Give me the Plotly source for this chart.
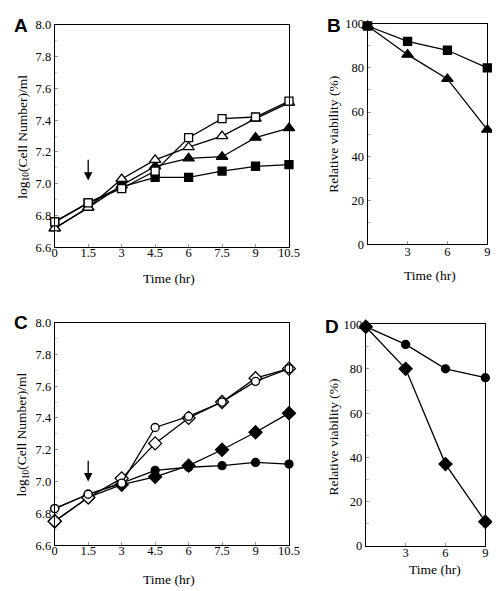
import plotly.graph_objects as go

# ---------------- data ----------------
time_growth = [0, 1.5, 3, 4.5, 6, 7.5, 9, 10.5]
time_viab = [0, 3, 6, 9]

# Panel A (log10 cell number / ml)
a_open_square = [6.76, 6.88, 6.97, 7.08, 7.29, 7.41, 7.42, 7.52]
a_open_triangle = [6.72, 6.85, 7.03, 7.15, 7.23, 7.30, 7.41, 7.51]
a_filled_triangle = [6.72, 6.85, 6.99, 7.11, 7.16, 7.17, 7.29, 7.35]
a_filled_square = [6.76, 6.88, 6.98, 7.04, 7.04, 7.08, 7.11, 7.12]

# Panel B (relative viability %)
b_square = [99, 92, 88, 80]
b_triangle = [99, 86, 75, 52]

# Panel C (log10 cell number / ml)
c_open_circle = [6.83, 6.92, 6.99, 7.34, 7.41, 7.50, 7.63, 7.71]
c_open_diamond = [6.75, 6.90, 7.02, 7.24, 7.40, 7.50, 7.65, 7.71]
c_filled_diamond = [6.75, 6.90, 6.98, 7.03, 7.10, 7.20, 7.31, 7.43]
c_filled_circle = [6.83, 6.92, 6.99, 7.07, 7.09, 7.10, 7.12, 7.11]

# Panel D (relative viability %)
d_circle = [99, 91, 80, 76]
d_diamond = [99, 80, 37, 11]

growth_ticks = [0, 1.5, 3, 4.5, 6, 7.5, 9, 10.5]
growth_tick_text = ["0", "1.5", "3", "4.5", "6", "7.5", "9", "10.5"]
log_ticks = [6.6, 6.8, 7.0, 7.2, 7.4, 7.6, 7.8, 8.0]
log_tick_text = ["6.6", "6.8", "7.0", "7.2", "7.4", "7.6", "7.8", "8.0"]
viab_ticks = [0, 20, 40, 60, 80, 100]
viab_time_ticks = [3, 6, 9]
treatment_time = 1.5

# ---------------- figure ----------------
W, H = 500, 591
SERIF = "Liberation Serif"
LINE_W = 1.3

def px_x(p):
    return p / W

def px_y(p):
    return 1 - p / H

fig = go.Figure()

def add(x, y, xa, ya, symbol, size, filled):
    fig.add_trace(go.Scatter(
        x=x, y=y, xaxis=xa, yaxis=ya, mode="lines+markers",
        line=dict(color="black", width=LINE_W),
        marker=dict(symbol=symbol, size=size,
                    color="black" if filled else "white",
                    line=dict(color="black", width=1.3)),
        cliponaxis=False, showlegend=False, hoverinfo="skip"))

# A
add(time_growth, a_filled_square, "x", "y", "square", 8, True)
add(time_growth, a_filled_triangle, "x", "y", "triangle-up", 10, True)
add(time_growth, a_open_triangle, "x", "y", "triangle-up", 10, False)
add(time_growth, a_open_square, "x", "y", "square", 8, False)
# B
add(time_viab, b_triangle, "x2", "y2", "triangle-up", 10, True)
add(time_viab, b_square, "x2", "y2", "square", 8, True)
# C
add(time_growth, c_filled_circle, "x3", "y3", "circle", 8, True)
add(time_growth, c_filled_diamond, "x3", "y3", "diamond", 10, True)
add(time_growth, c_open_diamond, "x3", "y3", "diamond", 10, False)
add(time_growth, c_open_circle, "x3", "y3", "circle", 8, False)
# D
add(time_viab, d_diamond, "x4", "y4", "diamond", 10, True)
add(time_viab, d_circle, "x4", "y4", "circle", 8, True)

tickfont = dict(family=SERIF, size=12.5, color="black")
common = dict(showline=True, mirror=True, linecolor="black", linewidth=1.2,
              showgrid=False, zeroline=False, ticks="inside", ticklen=3,
              tickcolor="#999999", tickfont=tickfont, fixedrange=True)

def growth_axes(xdom, ydom, anchor_x, anchor_y):
    xa = dict(common, domain=xdom, anchor=anchor_y, range=[0, 10.5],
              tickvals=growth_ticks, ticktext=growth_tick_text,
              ticklabelstandoff=-6)
    ya = dict(common, domain=ydom, anchor=anchor_x, range=[6.6, 8.0],
              tickvals=log_ticks, ticktext=log_tick_text,
              minor=dict(ticks="inside", ticklen=2, tickcolor="#bbbbbb", dtick=0.1))
    return xa, ya

def viab_axes(xdom, ydom, anchor_x, anchor_y):
    xa = dict(common, domain=xdom, anchor=anchor_y, range=[0, 9],
              tickvals=viab_time_ticks, ticklabelstandoff=-5)
    ya = dict(common, domain=ydom, anchor=anchor_x, range=[0, 100],
              tickvals=viab_ticks,
              minor=dict(ticks="inside", ticklen=3, tickcolor="#bbbbbb", dtick=10))
    return xa, ya

xA, yA = growth_axes([px_x(45), px_x(286)], [px_y(238), px_y(10)], "x", "y")
xB, yB = viab_axes([px_x(367), px_x(490)], [px_y(235), px_y(9)], "x2", "y2")
xC, yC = growth_axes([px_x(45), px_x(286)], [px_y(543), px_y(315)], "x3", "y3")
xD, yD = viab_axes([px_x(365), px_x(488)], [px_y(544), px_y(317)], "x4", "y4")

fig.update_layout(
    width=W, height=H, margin=dict(l=0, r=0, t=0, b=0),
    paper_bgcolor="white", plot_bgcolor="white",
    xaxis=xA, yaxis=yA, xaxis2=xB, yaxis2=yB,
    xaxis3=xC, yaxis3=yC, xaxis4=xD, yaxis4=yD,
)

annots = []
titlefont = dict(family=SERIF, size=13.5, color="black")
letterfont = dict(family="Liberation Sans", size=19, color="black")

def ann(text, x, y, font, angle=0, xanchor="center", yanchor="middle"):
    annots.append(dict(text=text, x=px_x(x), y=px_y(y), xref="paper", yref="paper",
                       showarrow=False, font=font, textangle=angle,
                       xanchor=xanchor, yanchor=yanchor))

# panel letters
ann("<b>A</b>", 1, 11, letterfont, xanchor="left")
ann("<b>B</b>", 323, 11, letterfont, xanchor="left")
ann("<b>C</b>", 1, 315, letterfont, xanchor="left")
ann("<b>D</b>", 321, 319, letterfont, xanchor="left")

# axis titles
ann("Time (hr)", 163, 270, titlefont)
ann("Time (hr)", 431, 267, titlefont)
ann("Time (hr)", 163, 578, titlefont)
ann("Time (hr)", 436, 568, titlefont)
ann("log<sub>10</sub>(Cell Number)/ml", 12, 125, titlefont, angle=-90)
ann("log<sub>10</sub>(Cell Number)/ml", 12, 430, titlefont, angle=-90)
ann("Relative viability (%)", 331, 122, titlefont, angle=-90)
ann("Relative viability (%)", 332, 432, titlefont, angle=-90)

# treatment arrows
for xr, yr, top, bot in [("x", "y", 7.16, 7.02), ("x3", "y3", 7.14, 7.00)]:
    annots.append(dict(x=treatment_time, y=bot, ax=treatment_time, ay=top,
                       xref=xr, yref=yr, axref=xr, ayref=yr, text="",
                       showarrow=True, arrowhead=2, arrowsize=1.3,
                       arrowwidth=1.3, arrowcolor="black"))

fig.update_layout(annotations=annots)
fig.write_html("out.html")
